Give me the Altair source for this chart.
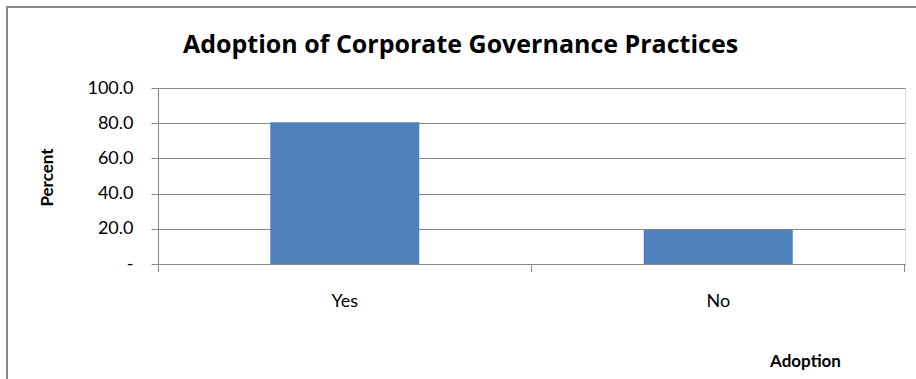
import altair as alt
import pandas as pd

categories = ["Yes", "No"]
percent = [80.5, 19.5]
y_ticks = [0, 20, 40, 60, 80, 100]

df = pd.DataFrame({"Adoption": categories, "Percent": percent})

GRID = "#878787"
BAR = "#4F81BD"
FONT = "Lato"

W, H = 747, 176

x_enc = alt.X(
    "Adoption:N",
    sort=categories,
    scale=alt.Scale(paddingInner=0.6, paddingOuter=0.3),
    axis=alt.Axis(
        title="Adoption",
        titleFont=FONT,
        titleFontSize=17,
        titleFontWeight="bold",
        titleColor="#000000",
        titleX=647,
        titleY=97,
        titleAlign="center",
        titleBaseline="middle",
        labelAngle=0,
        labelFont=FONT,
        labelFontSize=18,
        labelColor="#000000",
        labelPadding=28,
        ticks=False,
        domainColor=GRID,
        domainWidth=1,
        grid=False,
    ),
)

y_enc = alt.Y(
    "Percent:Q",
    scale=alt.Scale(domain=[0, 100], nice=False),
    axis=alt.Axis(
        title="Percent",
        titleFont=FONT,
        titleFontSize=17,
        titleFontWeight="bold",
        titleColor="#000000",
        titleX=-111,
        titleY=89,
        titleAngle=270,
        titleAlign="center",
        titleBaseline="middle",
        values=y_ticks,
        labelExpr="datum.value == 0 ? '-\u00a0\u00a0\u00a0' : format(datum.value, '.1f')",
        labelFont=FONT,
        labelFontSize=18,
        labelColor="#000000",
        labelPadding=18,
        tickSize=7,
        tickColor=GRID,
        domainColor=GRID,
        gridColor=GRID,
        gridWidth=1,
        grid=True,
    ),
)

bars = alt.Chart(df).mark_bar(color=BAR, size=149).encode(x=x_enc, y=y_enc)

ticks = [
    alt.Chart(df).mark_rule(color=GRID, strokeWidth=1).encode(
        x=alt.value(px), y=alt.value(H), y2=alt.value(H + 8)
    )
    for px in (0.5, W / 2, W - 0.5)
]

frame = alt.Chart(pd.DataFrame({"k": [0]})).mark_rect(
    fillOpacity=0, stroke=GRID, strokeWidth=2
).encode(
    x=alt.value(-151), x2=alt.value(W + 30), y=alt.value(-81), y2=alt.value(H + 140)
)

chart = alt.layer(frame, bars, *ticks).properties(
    width=W,
    height=H,
    padding={"left": 158, "top": 88, "right": 11, "bottom": 115},
    autosize=alt.AutoSizeParams(type="none"),
    title=alt.TitleParams(
        text="Adoption of Corporate Governance Practices",
        font="Open Sans",
        fontSize=25,
        fontWeight="bold",
        color="#000000",
        anchor="start",
        frame="group",
        dx=25,
        offset=-52,
    ),
).configure_view(stroke=None).configure(background="#ffffff")

chart.save("out.html", embed_options={"renderer": "svg", "actions": False})
